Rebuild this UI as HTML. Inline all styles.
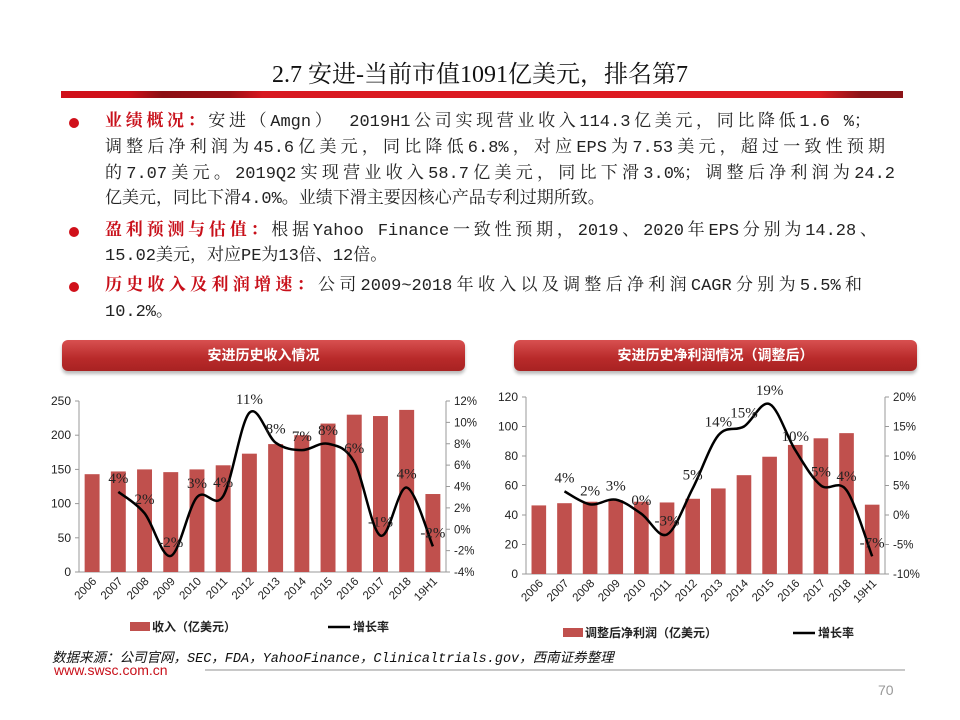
<!DOCTYPE html>
<html><head><meta charset="utf-8">
<style>
body{margin:0;background:#fff;}
#page{position:relative;width:960px;height:720px;overflow:hidden;background:#fff;font-family:"Liberation Serif","Noto Serif CJK SC",serif;}
.title{position:absolute;left:0;top:54px;width:960px;text-align:center;font-size:24px;color:#111;}
.bar{position:absolute;left:61px;top:91px;width:842px;height:7px;background:linear-gradient(90deg,#d0101a 0%,#d0101a 8%,#8c0f14 12%,#9c1015 20%,#d81820 24%,#e01c22 90%,#8c1418 95%,#8c1418 100%);}
.bullet{position:absolute;left:69px;width:10px;height:10px;border-radius:50%;background:#d0101a;}
.ln{position:absolute;left:105px;font-size:17px;line-height:22px;color:#222;white-space:nowrap;font-family:"Liberation Mono","Noto Serif CJK SC",serif;}
.j{text-align:justify;text-align-last:justify;}
.red{color:#c8101a;font-weight:bold;}
.btn{position:absolute;top:340px;height:31px;border-radius:6px;background:linear-gradient(#d85050,#b82a2a 60%,#a82222);color:#fff;font-weight:bold;font-size:14px;line-height:31px;text-align:center;box-shadow:0 3px 3px #bbb;font-family:"Liberation Sans","Noto Sans CJK SC",sans-serif;}
.src{position:absolute;left:52px;top:646px;font-size:13.5px;font-style:italic;color:#111;font-family:"Liberation Mono","Noto Sans CJK SC",sans-serif;}
.www{position:absolute;left:54px;top:662px;font-size:14px;color:#c8101a;font-family:"Liberation Sans",sans-serif;}
.hr{position:absolute;left:205px;top:669px;width:700px;height:2px;background:#c8c8c8;}
.pn{position:absolute;left:878px;top:682px;font-size:14px;color:#999;font-family:"Liberation Sans",sans-serif;}
</style></head><body>
<div id="page">
<div class="title">2.7 安进-当前市值1091亿美元，排名第7</div>
<div class="bar"></div>

<div class="bullet" style="top:118px"></div>
<div class="ln j" style="top:112px;width:766px"><span class="red">业绩概况：</span>安进（Amgn） 2019H1公司实现营业收入114.3亿美元，同比降低1.6 %；</div>
<div class="ln j" style="top:138px;width:780px">调整后净利润为45.6亿美元，同比降低6.8%，对应EPS为7.53美元，超过一致性预期</div>
<div class="ln j" style="top:164px;width:790px">的7.07美元。2019Q2实现营业收入58.7亿美元，同比下滑3.0%；调整后净利润为24.2</div>
<div class="ln" style="top:189px">亿美元，同比下滑4.0%。业绩下滑主要因核心产品专利过期所致。</div>

<div class="bullet" style="top:227px"></div>
<div class="ln j" style="top:221px;width:772px"><span class="red">盈利预测与估值：</span>根据Yahoo Finance一致性预期，2019、2020年EPS分别为14.28、</div>
<div class="ln" style="top:246px">15.02美元，对应PE为13倍、12倍。</div>

<div class="bullet" style="top:282px"></div>
<div class="ln j" style="top:276px;width:757px"><span class="red">历史收入及利润增速：</span>公司2009~2018年收入以及调整后净利润CAGR分别为5.5%和</div>
<div class="ln" style="top:302px">10.2%。</div>

<div class="btn" style="left:62px;width:403px">安进历史收入情况</div>
<div class="btn" style="left:514px;width:403px">安进历史净利润情况（调整后）</div>

<svg id="charts" width="960" height="720" style="position:absolute;left:0;top:0"></svg>

<div class="src">数据来源：公司官网，SEC，FDA，YahooFinance，Clinicaltrials.gov，西南证券整理</div>
<div class="www">www.swsc.com.cn</div>
<div class="hr"></div>
<div class="pn">70</div>
</div>
<script>
const categories = ["2006","2007","2008","2009","2010","2011","2012","2013","2014","2015","2016","2017","2018","19H1"];
const revenueValues = [143,147,150,146,150,156,173,187,200,217,230,228,237,114];
const revenueGrowth = [null,3.5,1.5,-2.5,3.0,3.1,10.9,8.1,7.4,8.0,6.3,-0.6,3.9,-1.6];
const revenueGrowthLabels = ["","4%","2%","-2%","3%","4%","11%","8%","7%","8%","6%","-1%","4%","-2%"];
const revenueLeftTicks = [0,50,100,150,200,250];
const revenueRightTicks = [-4,-2,0,2,4,6,8,10,12];
const profitValues = [46.5,48,49,50,49,48.5,51,58,67,79.5,87.5,92,95.5,47];
const profitGrowth = [null,4.0,1.8,2.6,0.2,-3.3,4.5,13.5,15.0,18.8,11.0,5.0,4.2,-7.0];
const profitGrowthLabels = ["","4%","2%","3%","0%","-3%","5%","14%","15%","19%","10%","5%","4%","-7%"];
const profitLeftTicks = [0,20,40,60,80,100,120];
const profitRightTicks = [-10,-5,0,5,10,15,20];

const NS="http://www.w3.org/2000/svg";
const svg=document.getElementById('charts');
function mk(tag,attrs,parent){const e=document.createElementNS(NS,tag);for(const k in attrs)e.setAttribute(k,attrs[k]);(parent||svg).appendChild(e);return e;}

function drawChart(o){
  const g=mk('g',{});
  
  
  const n=categories.length, band=(o.x1-o.x0)/n;
  const yL=v=>o.y0-(v-o.lmin)/(o.lmax-o.lmin)*(o.y0-o.yt);
  const yR=v=>o.y0-(v-o.rmin)/(o.rmax-o.rmin)*(o.y0-o.yt);
  const xC=i=>o.x0+band*(i+0.5);
  mk('line',{x1:o.x0,y1:o.yt,x2:o.x0,y2:o.y0,stroke:'#999','stroke-width':1},g);
  mk('line',{x1:o.x1,y1:o.yt,x2:o.x1,y2:o.y0,stroke:'#999','stroke-width':1},g);
  mk('line',{x1:o.x0,y1:o.y0,x2:o.x1,y2:o.y0,stroke:'#999','stroke-width':1},g);
  o.lt.forEach(v=>{
    mk('line',{x1:o.x0-4,y1:yL(v),x2:o.x0,y2:yL(v),stroke:'#999'},g);
    const t=mk('text',{x:o.x0-8,y:yL(v)+4,'text-anchor':'end','font-size':12,'font-family':'Liberation Sans, sans-serif',fill:'#222'},g);
    t.textContent=v;
    
    
  });
  o.rt.forEach(v=>{
    mk('line',{x1:o.x1,y1:yR(v),x2:o.x1+4,y2:yR(v),stroke:'#999'},g);
    const t=mk('text',{x:o.x1+8,y:yR(v)+4,'font-size':11.5,'font-family':'Liberation Sans, sans-serif',fill:'#222'},g);
    t.textContent=v+'%';
    
    
  });
  const bw=band*0.57;
  o.bars.forEach((v,i)=>{
    const r=mk('rect',{x:xC(i)-bw/2,y:yL(v),width:bw,height:o.y0-yL(v),fill:'#c0504d'},g);
    
    
  });
  categories.forEach((c,i)=>{
    const x=xC(i)+5,y=o.y0+10;
    const t=mk('text',{x:x,y:y,'text-anchor':'end','font-size':11.5,'font-family':'Liberation Sans, sans-serif',fill:'#222',transform:`rotate(-45 ${x} ${y})`},g);
    t.textContent=c;
    
    
  });
  const pts=[];o.line.forEach((v,i)=>{if(v!==null)pts.push([xC(i),yR(v)]);});
  let d=`M${pts[0][0]},${pts[0][1]}`;
  for(let i=0;i<pts.length-1;i++){
    const p0=pts[i-1]||pts[i],p1=pts[i],p2=pts[i+1],p3=pts[i+2]||p2;
    const c1=[p1[0]+(p2[0]-p0[0])/6,p1[1]+(p2[1]-p0[1])/6];
    const c2=[p2[0]-(p3[0]-p1[0])/6,p2[1]-(p3[1]-p1[1])/6];
    d+=` C${c1[0]},${c1[1]} ${c2[0]},${c2[1]} ${p2[0]},${p2[1]}`;
  }
  const path=mk('path',{d:d,fill:'none',stroke:'#000','stroke-width':2.5},g);
  
  
  o.line.forEach((v,i)=>{
    if(v===null)return;
    const t=mk('text',{x:xC(i),y:yR(v)-9,'text-anchor':'middle','font-size':15,'font-family':'Liberation Serif, serif',fill:'#222'},g);
    t.textContent=o.labels[i];
    
    
  });
  const lg=mk('g',{},g);
  
  
  mk('rect',{x:o.lg[0],y:o.lg[1]-5,width:20,height:9,fill:'#c0504d'},lg);
  const t1=mk('text',{x:o.lg[0]+22,y:o.lg[1]+4,'font-size':12,'font-weight':'bold','font-family':'Liberation Sans, Noto Sans CJK SC, sans-serif',fill:'#222'},lg);
  t1.textContent=o.barName;
  mk('line',{x1:o.lg[2],y1:o.lg[1],x2:o.lg[2]+22,y2:o.lg[1],stroke:'#000','stroke-width':2.5},lg);
  const t2=mk('text',{x:o.lg[2]+25,y:o.lg[1]+4,'font-size':12,'font-weight':'bold','font-family':'Liberation Sans, Noto Sans CJK SC, sans-serif',fill:'#222'},lg);
  t2.textContent='增长率';
}
drawChart({name:'revenue-chart',x0:79,x1:446,y0:572,yt:401,lmin:0,lmax:250,rmin:-4,rmax:12,lt:revenueLeftTicks,rt:revenueRightTicks,bars:revenueValues,line:revenueGrowth,labels:revenueGrowthLabels,lg:[130,627,328],barName:'收入（亿美元）'});
drawChart({name:'profit-chart',x0:526,x1:885,y0:574,yt:397,lmin:0,lmax:120,rmin:-10,rmax:20,lt:profitLeftTicks,rt:profitRightTicks,bars:profitValues,line:profitGrowth,labels:profitGrowthLabels,lg:[563,633,793],barName:'调整后净利润（亿美元）'});
</script>
</body></html>
